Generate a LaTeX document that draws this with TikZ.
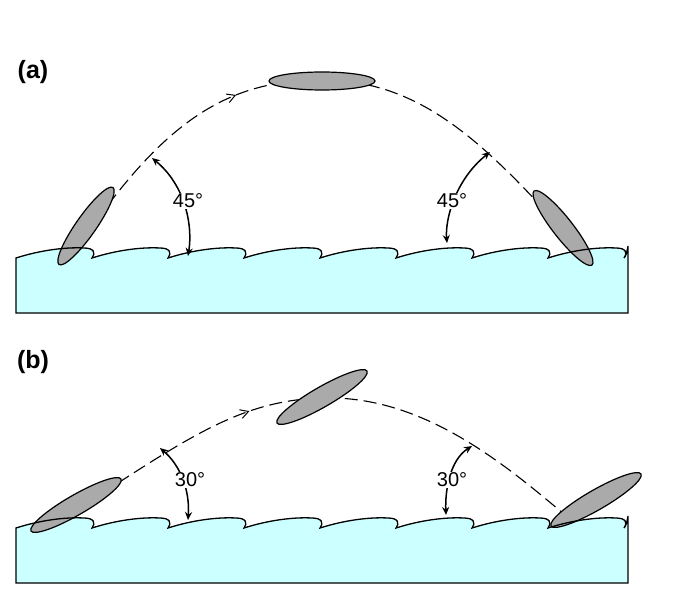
\documentclass[tikz,border=0pt]{standalone}
\usepackage{fontspec}
\setmainfont{Liberation Sans}
\usetikzlibrary{arrows.meta,shapes.geometric,decorations.markings}
\begin{document}
\begin{tikzpicture}[x=1pt,y=-1pt,
  water/.style={fill={rgb,255:red,204;green,255;blue,255}},
  board/.style={draw=black,fill={rgb,255:red,170;green,170;blue,170},line width=1.2pt,ellipse,inner sep=0pt},
  traj/.style={dash pattern=on 13pt off 6pt,line width=1.1pt},
  mk/.style={postaction={decorate},decoration={markings,mark=at position #1 with {\arrow[solid,line width=1pt]{Straight Barb[length=8pt,width=9pt]}}}},
  ang/.style={line width=1.5pt,{Stealth[length=8pt,width=7pt]}-{Stealth[length=8pt,width=7pt]}},
  lbl/.style={font=\bfseries\fontsize{25}{30}\selectfont},
  deg/.style={font=\fontsize{20}{24}\selectfont,fill=white,inner sep=1pt}]
\useasboundingbox (0,0) rectangle (685,599);
\newcommand{\waterpath}[1]{%
  (16,#1+55) -- (16,#1)
  \foreach \i in {0,...,7} {
    .. controls (16+76*\i+25,#1-8) and (16+76*\i+50,#1-11) .. (16+76*\i+68,#1-10)
    .. controls (16+76*\i+78,#1-10) and (16+76*\i+80,#1-5) .. (16+76*\i+76,#1)
  } .. controls (626,#1-2) and (627,#1-6) .. (628,#1-12) -- (628,#1+55) -- cycle}
% panel a
\node[lbl] (la) at (33,72) {(a)};
\fill[water] \waterpath{258};
\draw[traj,mk=0.33] (108,205) .. controls (180,110) and (240,80) .. (322,80)
  .. controls (410,80) and (470,130) .. (540,205);
\node[board,minimum width=94pt,minimum height=20pt,rotate=55] (e1) at (86,226) {};
\node[board,minimum width=106pt,minimum height=18pt] (e2) at (322,81) {};
\node[board,minimum width=94pt,minimum height=20pt,rotate=-52] (e3) at (563,228) {};
\draw[line width=1.3pt] \waterpath{258};
\coordinate (a1) at (152,158); \coordinate (a2) at (188,256);
\draw[ang] (a1) .. controls (185,185) and (193,225) .. (a2);
\node[deg] (d1) at (188,201) {45°};
\coordinate (b1) at (490,152); \coordinate (b2) at (447,243);
\draw[ang] (b1) .. controls (455,180) and (445,220) .. (b2);
\node[deg] (d2) at (452,201) {45°};
% panel b
\node[lbl] (lb) at (33,362) {(b)};
\fill[water] \waterpath{528};
\draw[traj,mk=0.3] (118,483) .. controls (200,430) and (250,400) .. (322,398)
  .. controls (420,395) and (500,460) .. (565,515);
\node[board,minimum width=104pt,minimum height=20pt,rotate=30] (f1) at (76,505) {};
\node[board,minimum width=104pt,minimum height=20pt,rotate=30] (f2) at (322,397) {};
\node[board,minimum width=104pt,minimum height=20pt,rotate=30] (f3) at (596,500) {};
\draw[line width=1.3pt] \waterpath{528};
\coordinate (c1) at (160,448); \coordinate (c2) at (188,520);
\draw[ang] (c1) .. controls (180,465) and (190,490) .. (c2);
\node[deg] (d3) at (190,480) {30°};
\coordinate (g1) at (472,446); \coordinate (g2) at (446,515);
\draw[ang] (g1) .. controls (450,460) and (445,490) .. (g2);
\node[deg] (d4) at (452,480) {30°};
\end{tikzpicture}
\end{document}
